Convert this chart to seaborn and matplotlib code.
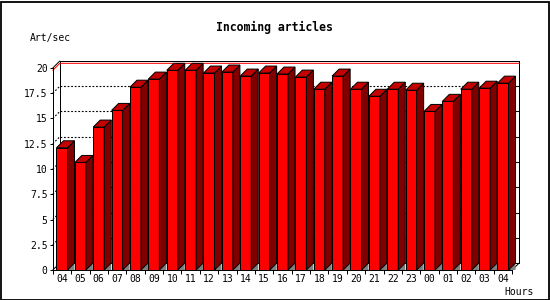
import numpy as np
import pandas as pd
import matplotlib
matplotlib.use("Agg")
import matplotlib.pyplot as plt
from matplotlib.patches import Polygon, Rectangle
import seaborn as sns

# ---- data ----
hours = ["04", "05", "06", "07", "08", "09", "10", "11", "12", "13", "14", "15",
         "16", "17", "18", "19", "20", "21", "22", "23", "00", "01", "02", "03", "04"]
rates = [12.1, 10.65, 14.15, 15.8, 18.1, 18.9, 19.77, 19.77, 19.5, 19.6, 19.2, 19.5,
         19.4, 19.1, 17.9, 19.2, 17.9, 17.2, 17.9, 17.8, 15.7, 16.7, 17.9, 18.0, 18.5]
y_ticks = [0, 2.5, 5, 7.5, 10, 12.5, 15, 17.5, 20]
y_tick_labels = ["0", "2.5", "5", "7.5", "10", "12.5", "15", "17.5", "20"]
title = "Incoming articles"
y_label = "Art/sec"
x_label = "Hours"

sns.set_theme(style="white")
plt.rcParams["font.family"] = ["DejaVu Sans Mono", "DejaVu Sans"]

W, H = 550, 300
fig = plt.figure(figsize=(W / 100, H / 100), dpi=100)
fig.patch.set_facecolor("white")
ax = fig.add_axes([52.8 / W, 30 / H, 459.4 / W, 202 / H])
ax.set_facecolor("white")

df = pd.DataFrame({"slot": np.arange(len(hours)), "rate": rates})
sns.barplot(data=df, x="slot", y="rate", color="#ff0000", saturation=1,
            width=0.6, edgecolor="black", linewidth=0.72, ax=ax)

n = len(hours)
ax.set_xlim(-0.5, n - 0.5)
ax.set_ylim(y_ticks[0], y_ticks[-1])
ax.set_xlabel("")
ax.set_ylabel("")

# depth of the 3D effect (pixels -> data units)
fig.canvas.draw()
bb = ax.get_window_extent()
depth_px = 7
ddx = depth_px * n / bb.width
ddy = depth_px * (y_ticks[-1] - y_ticks[0]) / bb.height
tick_dx = 2.5 * n / bb.width

lw = 0.72
xl, xr = -0.5, n - 0.5
ytop = y_ticks[-1]

# back plane frame
ax.plot([xl + ddx, xl + ddx], [ddy, ytop + ddy], color="black", lw=lw, clip_on=False, zorder=1)
ax.plot([xl + ddx, xr + ddx], [ytop + ddy, ytop + ddy], color="black", lw=lw, clip_on=False, zorder=1)
ax.plot([xr + ddx, xr + ddx], [ddy, ytop + ddy], color="black", lw=lw, clip_on=False, zorder=1)
ax.plot([xl + ddx, xr + ddx], [ddy, ddy], color="black", lw=lw, clip_on=False, zorder=1)
ax.plot([xl, xl + ddx], [ytop, ytop + ddy], color="black", lw=lw, clip_on=False, zorder=1)
ax.plot([xl, xl + ddx], [0, ddy], color="black", lw=lw, clip_on=False, zorder=1)
ax.plot([xr, xr + ddx], [0, ddy], color="black", lw=lw, clip_on=False, zorder=1)

# dotted grid on the back plane
for v in y_ticks[1:-1]:
    ax.plot([xl + ddx, xr + ddx], [v + ddy, v + ddy], color="black", lw=0.8,
            linestyle=(0, (1.6, 1.6)), clip_on=False, zorder=1)
    ax.plot([xl, xl + ddx], [v, v + ddy], color="black", lw=0.8,
            linestyle=(0, (1.6, 1.6)), clip_on=False, zorder=1)
# right-side ticks on back plane
for v in y_ticks:
    ax.plot([xr + ddx - tick_dx, xr + ddx], [v + ddy, v + ddy], color="black", lw=lw,
            clip_on=False, zorder=1)

# red max line
vmax = max(rates)
ax.plot([xl, xl + ddx, xr + ddx], [vmax, vmax + ddy, vmax + ddy], color="#ff0000",
        lw=lw, clip_on=False, zorder=1.5)

# 3D faces for each bar
for p in list(ax.patches):
    x0 = p.get_x()
    w = p.get_width()
    h = p.get_height()
    x1 = x0 + w
    p.set_zorder(3)
    p.set_clip_on(False)
    floor = Polygon([(x1, 0), (x1 + ddx, ddy), (x1 + ddx, 0)], closed=True,
                    facecolor="#808080", edgecolor="none", clip_on=False, zorder=2.9)
    side = Polygon([(x1, 0), (x1, h), (x1 + ddx, h + ddy), (x1 + ddx, ddy)], closed=True,
                   facecolor="#800000", edgecolor="black", lw=lw, clip_on=False, zorder=3)
    top = Polygon([(x0, h), (x1, h), (x1 + ddx, h + ddy), (x0 + ddx, h + ddy)], closed=True,
                  facecolor="#c40000", edgecolor="black", lw=lw, clip_on=False, zorder=3)
    ax.add_patch(floor)
    ax.add_patch(side)
    ax.add_patch(top)

# spines
for s in ["top", "right"]:
    ax.spines[s].set_visible(False)
for s in ["left", "bottom"]:
    ax.spines[s].set_visible(True)
    ax.spines[s].set_color("black")
    ax.spines[s].set_linewidth(lw)
    ax.spines[s].set_zorder(4)

# ticks
ax.set_yticks(y_ticks)
ax.set_yticklabels(y_tick_labels)
ax.tick_params(axis="y", left=True, direction="out", length=2.5, width=lw, pad=1.2,
               labelsize=7, colors="black")
ax.set_xticks(np.arange(n + 1) - 0.5)
ax.set_xticklabels([])
ax.set_xticks(np.arange(n), minor=True)
ax.set_xticklabels(hours, minor=True)
ax.tick_params(axis="x", which="major", bottom=True, direction="out", length=3,
               width=lw, colors="black")
ax.tick_params(axis="x", which="minor", bottom=True, length=0, pad=3.2,
               labelsize=7, colors="black")

# texts
fig.text(274 / W, 1 - 27.5 / H, title, ha="center", va="center", fontsize=8.3,
         fontweight="bold", color="black")
fig.text(30 / W, 1 - 38 / H, y_label, ha="left", va="center", fontsize=7, color="black")
fig.text(504 / W, 1 - 292 / H, x_label, ha="left", va="center", fontsize=7, color="black")

# figure border
fig.patches.append(Rectangle((0.5 / W, 0.5 / H), 1 - 2 / W, 1 - 2 / H, fill=False,
                             edgecolor="black", lw=1.3, transform=fig.transFigure))

fig.savefig("out.png", dpi=100, facecolor="white")
